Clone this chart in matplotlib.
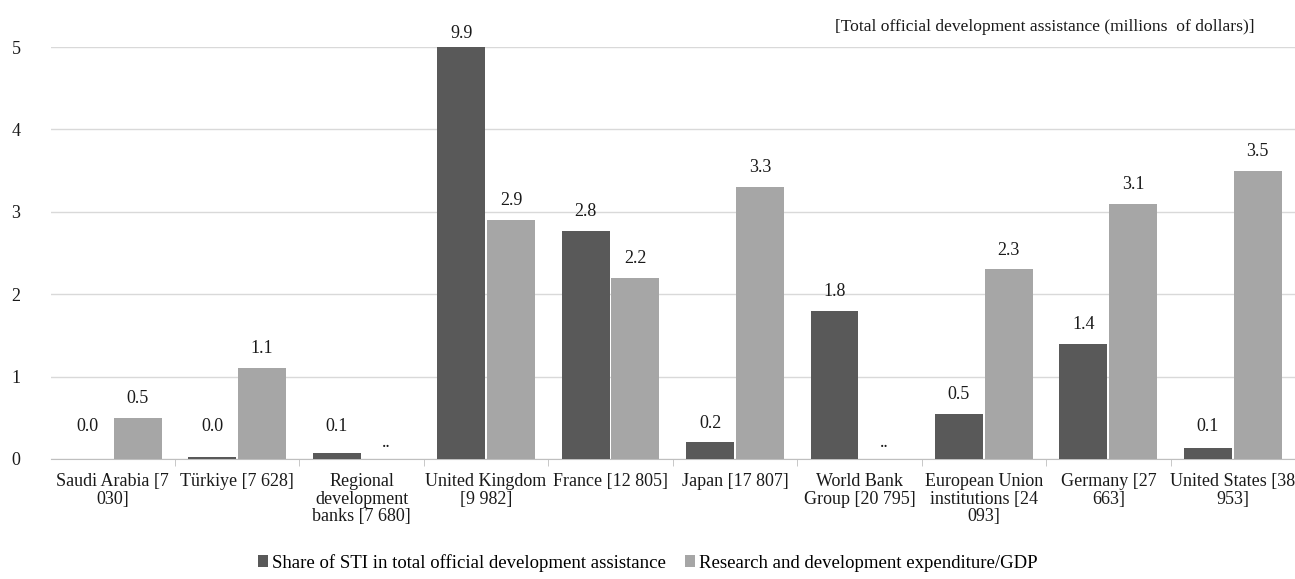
import matplotlib

matplotlib.use("Agg")
import matplotlib.pyplot as plt
import numpy as np

# categories (total ODA in brackets), wrapped as in the source
categories = [
    "Saudi Arabia [7\n030]",
    "Türkiye [7 628]",
    "Regional\ndevelopment\nbanks [7 680]",
    "United Kingdom\n[9 982]",
    "France [12 805]",
    "Japan [17 807]",
    "World Bank\nGroup [20 795]",
    "European Union\ninstitutions [24\n093]",
    "Germany [27\n663]",
    "United States [38\n953]",
]
sti_share = [0.0, 0.02, 0.07, 9.9, 2.77, 0.2, 1.8, 0.55, 1.4, 0.13]
sti_labels = ["0.0", "0.0", "0.1", "9.9", "2.8", "0.2", "1.8", "0.5", "1.4", "0.1"]
rd_gdp = [0.5, 1.1, None, 2.9, 2.2, 3.3, None, 2.3, 3.1, 3.5]

DARK = "#595959"
LIGHT = "#a6a6a6"
TEXT = "#1a1a1a"
YMAX = 5
FS = 13

plt.rcParams["font.family"] = ["Liberation Serif", "DejaVu Serif"]

fig = plt.figure(figsize=(12.95, 5.79), dpi=100)
ax = fig.add_axes([0.039, 0.2073, 0.961, 0.7115])

x = np.arange(len(categories))
w = 0.385
off = 0.2

dark_h = [min(v, YMAX) for v in sti_share]  # UK bar is clipped at the axis top
ax.bar(x - off, dark_h, w, color=DARK, zorder=3, label="Share of STI in total official development assistance")
light_h = [v if v is not None else 0 for v in rd_gdp]
ax.bar(x + off, light_h, w, color=LIGHT, zorder=3, label="Research and development expenditure/GDP")

# value labels
for i, (h, lab) in enumerate(zip(dark_h, sti_labels)):
    dy = 10 if h >= YMAX else 14
    ax.annotate(lab, (x[i] - off, max(h, 0.16)), xytext=(0, dy), textcoords="offset points",
                ha="center", va="center", fontsize=FS, color=TEXT, annotation_clip=False)
for i, v in enumerate(rd_gdp):
    if v is None:
        ax.annotate("..", (x[i] + off, 0), xytext=(0, 8.5), textcoords="offset points",
                    ha="center", va="baseline", fontsize=FS, color=TEXT)
    else:
        ax.annotate(f"{v:.1f}", (x[i] + off, v), xytext=(0, 14), textcoords="offset points",
                    ha="center", va="center", fontsize=FS, color=TEXT)

ax.set_xlim(-0.5, len(categories) - 0.5)
ax.set_ylim(0, YMAX)
ax.set_yticks(range(0, YMAX + 1))
ax.yaxis.grid(True, color="#d9d9d9", linewidth=1, zorder=0)
ax.tick_params(axis="y", length=0, pad=28, labelsize=FS, labelcolor=TEXT)
for lab in ax.get_yticklabels():
    lab.set_horizontalalignment("left")

ax.set_xticks(x)
ax.set_xticklabels(categories, fontsize=FS, color=TEXT, linespacing=1.05)
ax.set_xticks(np.arange(0.5, len(categories) - 0.5), minor=True)
ax.tick_params(axis="x", which="major", length=0, pad=10)
ax.tick_params(axis="x", which="minor", length=5, color="#bfbfbf", direction="out")

for s in ["top", "right", "left"]:
    ax.spines[s].set_visible(False)
ax.spines["bottom"].set_color("#bfbfbf")

fig.text(0.645, 0.953, "[Total official development assistance (millions  of dollars)]",
         fontsize=12.6, color=TEXT, ha="left", va="center")

fig.legend(loc="center", bbox_to_anchor=(0.5, 0.028), ncol=2, frameon=False, fontsize=13.5,
           handlelength=0.55, handleheight=0.55, handletextpad=0.2, columnspacing=1.0)

fig.savefig("out.png", dpi=100)
